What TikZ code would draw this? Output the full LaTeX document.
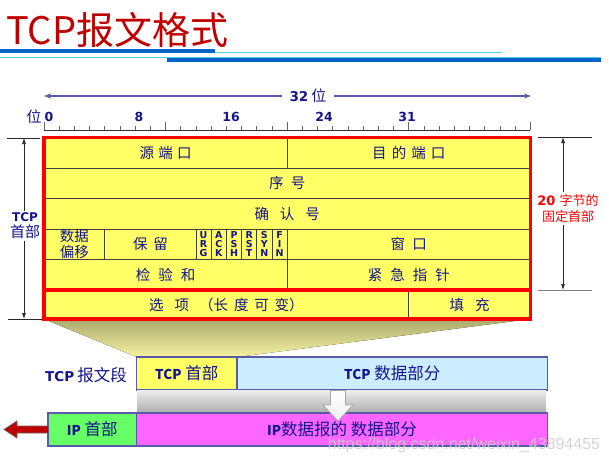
\documentclass[tikz,border=0pt]{standalone}
\usepackage{fontspec}
\setmainfont{DejaVu Sans}
\newfontfamily\cjk{Noto Sans CJK SC}
\newfontfamily\wmfont{Liberation Sans}
\usetikzlibrary{arrows.meta}
\pgfdeclarelayer{background}
\pgfsetlayers{background,main}
\newcommand\setfs[1]{\fontsize{#1}{#1}\selectfont}
\newcommand\gp[1]{\hspace{#1em}}
\newcommand\latb[1]{{\fontsize{13.5}{13.5}\selectfont\bfseries #1}}
\definecolor{navy}{RGB}{20,20,140}
\definecolor{titlered}{RGB}{192,0,0}
\definecolor{barblue}{RGB}{0,100,200}
\definecolor{linecyan}{RGB}{90,200,235}
\definecolor{cellyellow}{RGB}{255,255,102}
\definecolor{borderred}{RGB}{255,0,0}
\definecolor{boxedge}{RGB}{90,90,170}
\definecolor{tcpblue}{RGB}{204,236,255}
\definecolor{ipgreen}{RGB}{102,255,102}
\definecolor{ipmag}{RGB}{255,102,255}
\definecolor{arrowred}{RGB}{192,0,0}
\definecolor{rulerblue}{RGB}{90,90,170}
\definecolor{trapTop}{RGB}{170,170,110}
\definecolor{trapBot}{RGB}{245,242,160}
\tikzset{
  cell/.style={draw=black!75, line width=0.8pt, fill=cellyellow, inner sep=0pt, outer sep=0pt,
    anchor=north west, text=navy, align=center, font=\cjk\setfs{14.5}},
  flag/.style={cell, minimum width=15.2pt, minimum height=30.5pt, font=\bfseries\fontsize{9.5}{9}\selectfont},
  redborder/.style={draw=borderred, line width=3.5pt},
  box/.style={draw=boxedge, line width=1.2pt, inner sep=0pt, outer sep=0pt, anchor=north west,
    text=navy, minimum height=33pt, font=\cjk\setfs{16.5}},
  ann/.style={draw=black!85, line width=0.7pt},
  annarrow/.style={ann, -{Latex[length=6pt,width=4pt]}},
  bitlab/.style={text=navy, font=\bfseries\setfs{12.5}, inner sep=0pt},
  wline/.style={draw=rulerblue, line width=1.2pt, -{Stealth[length=7pt,width=5pt]}},
}
\begin{document}
\begin{tikzpicture}[x=1pt,y=-1pt]
\useasboundingbox (0,0) rectangle (609,464);
% title and bars
\node[anchor=west, text=titlered, font=\cjk\setfs{38}, inner sep=0pt] (title) at (6,30) {TCP报文格式};
\fill[barblue] (0,49) rectangle (215,53);
\draw[linecyan, line width=1pt] (215,52.5) -- (502,52.5);
\draw[linecyan, line width=1pt] (0,57.5) -- (601,57.5);
\fill[barblue] (167,58.3) rectangle (601,62.3);
% 32 bit arrow
\node[text=navy, inner sep=7pt] (w32) at (308,96) {\latb{32} {\cjk\setfs{15}位}};
\coordinate (wl) at (44,96);
\coordinate (wr) at (531,96);
\draw[wline] (w32.west) -- (wl);
\draw[wline] (w32.east) -- (wr);
% ruler
\node[text=navy, font=\cjk\setfs{15}, inner sep=0pt] (wei) at (34,117) {位};
\node[bitlab] (b0) at (49,117) {0};
\node[bitlab] (b8) at (139,117) {8};
\node[bitlab] (b16) at (231,117) {16};
\node[bitlab] (b24) at (324,117) {24};
\node[bitlab] (b31) at (407,117) {31};
\draw[black!80, line width=0.8pt] (44,130) -- (530.4,130);
\foreach \k in {0,...,32} \draw[black!60, line width=0.7pt] ({44+15.2*\k},126) -- ({44+15.2*\k},130);
\foreach \k in {0,8,16,24,32} \draw[black!60, line width=0.8pt] ({44+15.2*\k},122) -- ({44+15.2*\k},130);
% header table
\node[cell, minimum width=243.2pt, minimum height=30.5pt] (src) at (44,137.5) {源\gp{.3}端\gp{.3}口};
\node[cell, minimum width=243.2pt, minimum height=30.5pt] (dst) at (287.2,137.5) {目\gp{.35}的\gp{.35}端\gp{.35}口};
\node[cell, minimum width=486.4pt, minimum height=30.5pt] (seq) at (44,168) {序\gp{.5}号};
\node[cell, minimum width=486.4pt, minimum height=30.5pt] (ack) at (44,198.5) {确\gp{.75}认\gp{.75}号};
\node[cell, minimum width=60.8pt, minimum height=30.5pt, font=\cjk\fontsize{14.5}{16}\selectfont] (off) at (44,229) {数据\\偏移};
\node[cell, minimum width=91.2pt, minimum height=30.5pt] (rsv) at (104.8,229) {保\gp{.4}留};
\node[flag] (furg) at (196,229) {U\\R\\G};
\node[flag] (fack) at (211.2,229) {A\\C\\K};
\node[flag] (fpsh) at (226.4,229) {P\\S\\H};
\node[flag] (frst) at (241.6,229) {R\\S\\T};
\node[flag] (fsyn) at (256.8,229) {S\\Y\\N};
\node[flag] (ffin) at (272,229) {F\\I\\N};
\node[cell, minimum width=243.2pt, minimum height=30.5pt] (win) at (287.2,229) {窗\gp{.5}口};
\node[cell, minimum width=243.2pt, minimum height=30.5pt] (chk) at (44,259.5) {检\gp{.55}验\gp{.55}和};
\node[cell, minimum width=243.2pt, minimum height=30.5pt] (urp) at (287.2,259.5) {紧\gp{.55}急\gp{.55}指\gp{.55}针};
\node[cell, minimum width=364.8pt, minimum height=29pt] (opt) at (44,290) {选\gp{.75}项\gp{.7}（长\gp{.4}度\gp{.4}可\gp{.4}变）};
\node[cell, minimum width=121.6pt, minimum height=29pt] (pad) at (408.8,290) {填\gp{.75}充};
\draw[redborder] (src.north west) rectangle (pad.south east);
\draw[redborder] (opt.north west) -- (pad.north east);
% left annotation
\node[text=navy, align=center, inner sep=2pt, font=\fontsize{12}{16}\selectfont] (tcph) at (25,226) {{\bfseries TCP}\\{\cjk\setfs{15}首部}};
\coordinate (lt1) at (7,138); \coordinate (lt2) at (40,138); \coordinate (lta) at (24,138);
\coordinate (lb1) at (8,319); \coordinate (lb2) at (42,319); \coordinate (lba) at (24,319);
\draw[ann] (lt1) -- (lt2);
\draw[ann] (lb1) -- (lb2);
\draw[annarrow] (tcph.north -| lta) -- (lta);
\draw[annarrow] (tcph.south -| lba) -- (lba);
% right annotation
\node[text=borderred, align=center, inner sep=2pt, font=\fontsize{13}{16.5}\selectfont] (fix) at (568,208.5) {{\bfseries 20} {\cjk 字节的}\\{\cjk 固定首部}};
\coordinate (rt1) at (538,137); \coordinate (rt2) at (592,137); \coordinate (rta) at (563,137);
\coordinate (rb1) at (538,290); \coordinate (rb2) at (592,290); \coordinate (rba) at (563,290);
\draw[ann] (rt1) -- (rt2);
\draw[ann, draw=black!50] (rb1) -- (rb2);
\draw[annarrow] (fix.north -| rta) -- (rta);
\draw[annarrow] (fix.south -| rba) -- (rba);
% bottom boxes
\node[text=navy, inner sep=0pt] (seglab) at (86,375) {\latb{TCP} {\cjk\setfs{16.5}报文段}};
\node[box, fill=cellyellow, minimum width=100.5pt] (tcphdr) at (136.5,357) {\latb{TCP} 首部};
\node[box, fill=tcpblue, minimum width=310.5pt] (tcpdata) at (tcphdr.north east) {\latb{TCP} 数据部分};
\node[anchor=north west, inner sep=0pt, minimum width=409pt, minimum height=22.5pt,
      top color=gray!15, bottom color=gray!65] (band) at (137,390.5) {};
\node[box, fill=ipgreen, minimum width=88.5pt] (iphdr) at (48,413) {\latb{IP} 首部};
\node[box, fill=ipmag, minimum width=411pt] (ipdata) at (iphdr.north east) {\latb{IP}数据报的 数据部分};
% trapezoid
\begin{pgfonlayer}{background}
\fill[top color=trapTop, bottom color=trapBot] (opt.south west) -- (pad.south east) -- (tcphdr.north east) -- (tcphdr.north west) -- cycle;
\end{pgfonlayer}
% white down arrow
\draw[top color=white, bottom color=gray!12, draw=gray!70, line width=0.8pt]
  (330.5,390.5) -- (345.5,390.5) -- (345.5,405) -- (353,405) -- (338,421) -- (323,405) -- (330.5,405) -- cycle;
% red arrow
\draw[fill=arrowred, draw=black!60, line width=0.8pt]
  (iphdr.west |- 0,426) -- (17,426) -- (17,421) -- (4,429.5) -- (17,438) -- (17,433) -- (iphdr.west |- 0,433);
% watermark
\node[text=gray!40, opacity=0.85, font=\wmfont\setfs{16}, inner sep=0pt] (wm) at (464,445) {https://blog.csdn.net/weixin\_43894455};
\end{tikzpicture}
\end{document}
